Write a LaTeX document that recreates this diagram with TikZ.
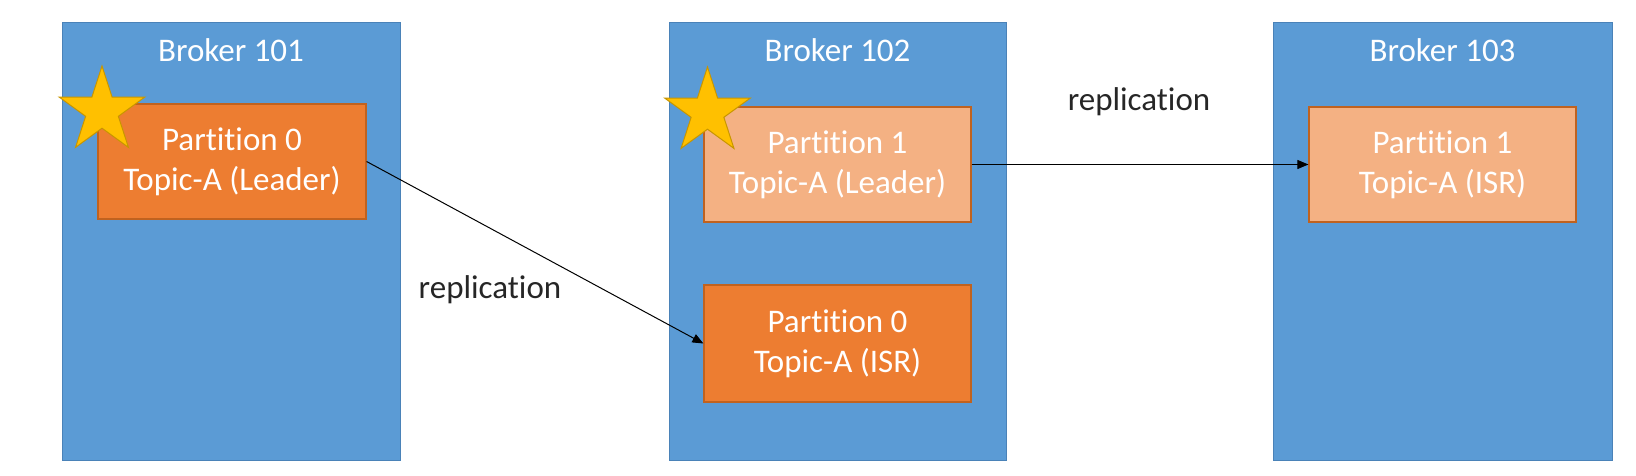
\documentclass[tikz,border=0pt]{standalone}
\usepackage{fontspec}
\setmainfont{Carlito}[Ligatures=NoCommon]
\usetikzlibrary{shapes.geometric,arrows.meta}
\definecolor{brokerblue}{HTML}{5B9BD5}
\definecolor{brokeredge}{HTML}{4A82B8}
\definecolor{leadorange}{HTML}{ED7D31}
\definecolor{lightorange}{HTML}{F4B183}
\definecolor{boxedge}{HTML}{C0621F}
\definecolor{stargold}{HTML}{FFC000}
\definecolor{staredge}{HTML}{C89600}
\tikzset{
  broker/.style={draw=brokeredge, line width=1pt, fill=brokerblue, minimum height=437pt, inner sep=0pt},
  blabel/.style={text=white, font=\fontsize{33}{40}\selectfont, anchor=base},
  part/.style={draw=boxedge, line width=1.2pt, text=white, align=center, inner sep=0pt,
    font=\fontsize{33}{40}\selectfont},
  dark/.style={part, fill=leadorange},
  light/.style={part, fill=lightorange},
  leaderstar/.style={star, star points=5, star point ratio=2.618, minimum size=90pt, inner sep=0pt,
    fill=stargold, draw=staredge, line width=1pt},
  repl/.style={draw=black, line width=1pt, -{Triangle[length=11pt,width=9pt]}},
  rlabel/.style={text=black!85, font=\fontsize{33}{40}\selectfont}
}
\begin{document}
\begin{tikzpicture}[x=1pt,y=-1pt]
\useasboundingbox (0,0) rectangle (1636,476);
\fill[white] (0,0) rectangle (1636,476);
% brokers
\node[broker, minimum width=338pt] (b1) at (231,241.5) {};
\node[broker, minimum width=337pt] (b2) at (837.5,241.5) {};
\node[broker, minimum width=339pt] (b3) at (1442.5,241.5) {};
\node[blabel] (l1) at (231,62) {Broker 101};
\node[blabel] (l2) at (837.5,62) {Broker 102};
\node[blabel] (l3) at (1442.5,62) {Broker 103};
% partitions
\node[dark, minimum width=268pt, minimum height=115pt] (p0l) at (232,161.5) {Partition 0\\Topic-A (Leader)};
\node[light, minimum width=267pt, minimum height=115pt] (p1l) at (837.5,164.5) {Partition 1\\Topic-A (Leader)};
\node[dark, minimum width=267pt, minimum height=117pt] (p0i) at (837.5,343.5) {Partition 0\\Topic-A (ISR)};
\node[light, minimum width=267pt, minimum height=115pt] (p1i) at (1442.5,164.5) {Partition 1\\Topic-A (ISR)};
% stars
\node[leaderstar] (s1) at (102,111) {};
\node[leaderstar] (s2) at (707.5,112) {};
% replication arrows
\draw[repl] (p0l.east) -- (p0i.west);
\draw[repl] (p1l.east) -- (p1i.west);
\node[rlabel] (r1) at (490,290) {replication};
\node[rlabel] (r2) at (1139,102) {replication};
\end{tikzpicture}
\end{document}
